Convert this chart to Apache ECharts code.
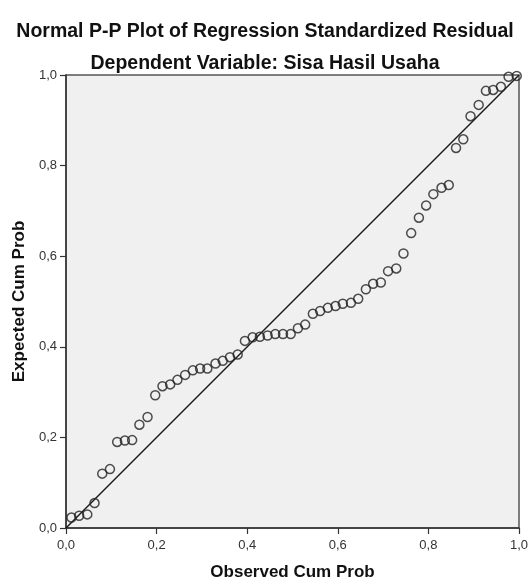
<!DOCTYPE html>
<html>
<head>
<meta charset="UTF-8">
<title></title>
<script src="https://cdn.jsdelivr.net/npm/echarts@6/dist/echarts.min.js"></script>
</head>
<body style="margin:0;background:#fff;">
<div id="chart" style="width:530px;height:581px;"></div>
<script type="text/javascript">
// observed cum prob (x) and expected cum prob (y)
var observed = [0.012, 0.029, 0.047, 0.063, 0.080, 0.097, 0.113, 0.130, 0.146, 0.162,
	0.180, 0.197, 0.213, 0.230, 0.246, 0.263, 0.280, 0.296, 0.312, 0.330,
	0.346, 0.362, 0.379, 0.395, 0.412, 0.428, 0.445, 0.462, 0.479, 0.496,
	0.512, 0.528, 0.545, 0.561, 0.578, 0.595, 0.611, 0.629, 0.645, 0.662,
	0.678, 0.695, 0.711, 0.729, 0.745, 0.762, 0.779, 0.795, 0.811, 0.829,
	0.845, 0.861, 0.877, 0.893, 0.911, 0.927, 0.943, 0.960, 0.977, 0.995];
var expected = [0.023, 0.027, 0.030, 0.055, 0.120, 0.130, 0.190, 0.193, 0.194, 0.228,
	0.245, 0.293, 0.313, 0.317, 0.327, 0.338, 0.348, 0.352, 0.352, 0.363,
	0.369, 0.377, 0.383, 0.413, 0.421, 0.422, 0.425, 0.428, 0.428, 0.428,
	0.441, 0.449, 0.473, 0.479, 0.486, 0.490, 0.495, 0.497, 0.506, 0.527,
	0.539, 0.542, 0.567, 0.573, 0.606, 0.651, 0.685, 0.712, 0.737, 0.751,
	0.757, 0.839, 0.858, 0.909, 0.934, 0.965, 0.967, 0.974, 0.996, 0.998];
var tickLabels = ['0,0', '0,2', '0,4', '0,6', '0,8', '1,0'];

var points = observed.map(function (v, i) { return [v, expected[i]]; });

var chart = echarts.init(document.getElementById('chart'));
var axisFmt = function (v) { return tickLabels[Math.round(v * 5)]; };
var font = 'Liberation Sans';

chart.setOption({
	backgroundColor: '#fff',
	animation: false,
	title: [{
		text: 'Normal P-P Plot of Regression Standardized Residual',
		left: 'center', top: 17,
		textStyle: {fontFamily: font, fontSize: 19.5, fontWeight: 'bold', color: '#111'}
	}, {
		text: 'Dependent Variable: Sisa Hasil Usaha',
		left: 'center', top: 49,
		textStyle: {fontFamily: font, fontSize: 19.5, fontWeight: 'bold', color: '#111'}
	}],
	grid: {
		left: 66, top: 75, width: 453, height: 453,
		outerBoundsMode: 'none',
		show: true, backgroundColor: '#f0f0f0', borderColor: '#555', borderWidth: 1.5
	},
	xAxis: {
		type: 'value', min: 0, max: 1, interval: 0.2,
		name: 'Observed Cum Prob', nameLocation: 'middle', nameGap: 36,
		nameTextStyle: {fontFamily: font, fontSize: 17, fontWeight: 'bold', color: '#111'},
		axisLine: {show: true, lineStyle: {color: '#333', width: 1.5}},
		axisTick: {show: true, length: 6, lineStyle: {color: '#333', width: 1.2}},
		axisLabel: {formatter: axisFmt, fontFamily: font, fontSize: 13, color: '#333', margin: 11},
		splitLine: {show: false}
	},
	yAxis: {
		type: 'value', min: 0, max: 1, interval: 0.2,
		name: 'Expected Cum Prob', nameLocation: 'middle', nameGap: 38,
		nameTextStyle: {fontFamily: font, fontSize: 17, fontWeight: 'bold', color: '#111'},
		axisLine: {show: true, lineStyle: {color: '#333', width: 1.5}},
		axisTick: {show: true, length: 6, lineStyle: {color: '#333', width: 1.2}},
		axisLabel: {formatter: axisFmt, fontFamily: font, fontSize: 13, color: '#333', margin: 9},
		splitLine: {show: false}
	},
	series: [{
		type: 'line',
		data: [[0, 0], [1, 1]],
		symbol: 'none',
		lineStyle: {color: '#1a1a1a', width: 1.5},
		z: 1
	}, {
		type: 'scatter',
		data: points,
		symbol: 'circle',
		symbolSize: 9,
		itemStyle: {color: 'rgba(0,0,0,0)', borderColor: '#222', borderWidth: 1.5},
		z: 2
	}]
});
</script>
</body>
</html>
